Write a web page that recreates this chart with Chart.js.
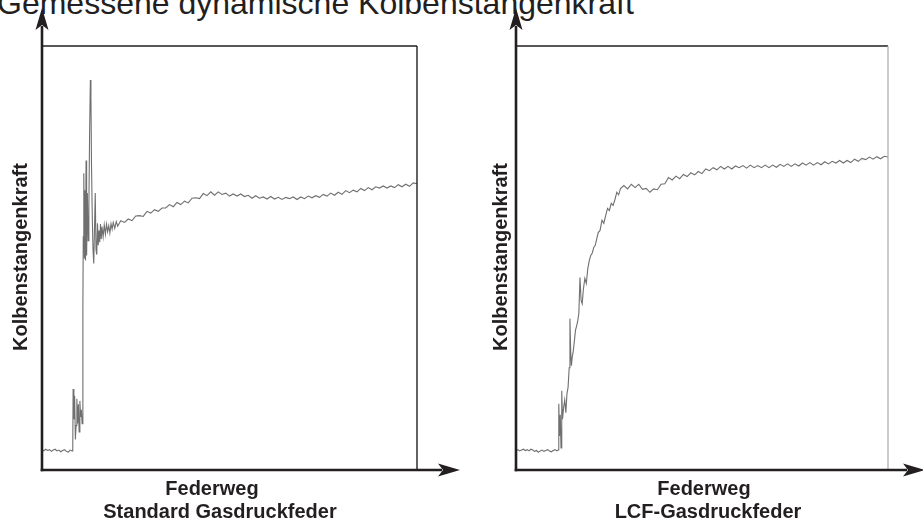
<!DOCTYPE html>
<html lang="de">
<head>
<meta charset="utf-8">
<title>Gemessene dynamische Kolbenstangenkraft</title>
<script src="https://cdn.jsdelivr.net/npm/chart.js@4.4.1/dist/chart.umd.min.js"></script>
<style>
  html, body { margin: 0; padding: 0; background: #fff; }
  body { width: 923px; height: 523px; position: relative; overflow: hidden; font-family: "Liberation Sans", Arial, Helvetica, sans-serif; color: #231f20; }
  canvas { position: absolute; top: 0; }
  #chartStd { left: 0; }
  #chartLcf { left: 470px; }
  .titel { position: absolute; left: -3px; top: -13px; font-size: 32px; line-height: 32px; white-space: nowrap; }
  .ylab { position: absolute; width: 260px; text-align: center; font-weight: bold; font-size: 20px; line-height: 20px; transform: rotate(-90deg); white-space: nowrap; }
  .xlab { position: absolute; width: 400px; text-align: center; font-weight: bold; font-size: 20px; line-height: 23px; white-space: nowrap; }
</style>
</head>
<body>
<div class="titel">Gemessene dynamische Kolbenstangenkraft</div>

<canvas id="chartStd" width="470" height="523"></canvas>
<canvas id="chartLcf" width="460" height="523"></canvas>

<div class="ylab" style="left:-110px; top:247px;">Kolbenstangenkraft</div>
<div class="ylab" style="left:370px; top:247px;">Kolbenstangenkraft</div>

<div class="xlab" style="left:12px; top:477px;">Federweg</div>
<div class="xlab" style="left:20px; top:500px;">Standard Gasdruckfeder</div>
<div class="xlab" style="left:504px; top:477px;">Federweg</div>
<div class="xlab" style="left:508px; top:500px;">LCF-Gasdruckfeder</div>

<script>
// ---------------------------------------------
// Messwerte (Federweg / Kraft, relative Einheiten 0..100)
// ---------------------------------------------

// Standard Gasdruckfeder
const stdTravel = [
  0, 0.5, 1, 1.5, 2, 2.5, 3, 3.5, 4, 4.5, 5, 5.5, 6, 6.5, 7, 7.5, 8, 8.2,
  8.3, 8.5, 8.7, 8.9, 9.1, 9.3, 9.5, 9.7, 9.9, 10.1, 10.3, 10.5, 10.7,
  10.9, 11.0, 11.15, 11.3, 11.45, 11.6, 11.75, 11.9, 12.1, 12.3, 12.5, 12.7, 12.9, 13.05, 13.2, 13.4,
  13.6, 13.8, 14.0, 14.2, 14.4, 14.6, 14.8, 15.0, 15.2, 15.4, 15.6, 15.8, 16.0, 16.3, 16.6, 16.9,
  17.2, 17.5, 17.8, 18.1, 18.4, 18.7, 19.0, 19.4, 19.8, 20.2,
  21, 22, 23, 24, 25, 26, 27, 28, 29, 30, 31, 32, 33, 34, 35, 36, 37, 38, 39, 40,
  41, 42, 43, 44, 45, 46, 47, 48, 49, 50, 51, 52, 53, 54, 55, 56, 57, 58, 59, 60,
  61, 62, 63, 64, 65, 66, 67, 68, 69, 70, 71, 72, 73, 74, 75, 76, 77, 78, 79, 80,
  81, 82, 83, 84, 85, 86, 87, 88, 89, 90, 91, 92, 93, 94, 95, 96, 97, 98, 99, 100
];
const stdForce = [
  4.8, 4.5, 4.9, 4.6, 4.8, 4.4, 4.7, 4.9, 4.5, 4.7, 4.3, 4.6, 4.8, 4.4, 4.2, 4.7, 4.5, 4.8,
  19.1, 12.0, 17.5, 7.2, 10.5, 16.8, 11.0, 15.5, 9.0, 16.3, 12.5, 14.2, 10.9,
  38.0, 55.0, 70.0, 50.0, 66.0, 49.4, 73.0, 50.6, 65.3, 54.1, 62.0, 80.0, 92.0, 88.0, 72.0, 60.0,
  52.0, 48.7, 57.0, 65.3, 52.0, 50.8, 58.2, 53.0, 56.5, 53.7, 58.0, 54.5, 57.4, 55.0, 57.8, 55.6,
  58.0, 56.2, 57.6, 55.9, 58.1, 56.8, 58.4, 57.0, 58.6, 57.5,
  58.8, 58.4, 59.2, 58.8, 59.9, 60.0, 59.8, 61.0, 60.6, 61.4, 61.0, 61.8, 61.8, 62.6, 62.1, 63.1, 62.6, 63.4, 63.0, 64.1,
  64.2, 64.0, 65.2, 64.7, 65.6, 64.8, 65.6, 65.0, 65.3, 64.6, 65.1, 64.6, 65.1, 64.5, 64.8, 64.1, 64.7, 64.1, 64.4, 63.9,
  64.5, 63.9, 64.3, 63.8, 64.3, 64.0, 64.4, 63.8, 64.4, 64.0, 64.6, 64.2, 64.7, 64.3, 65.0, 64.6, 65.3, 64.8, 65.5, 65.0,
  65.9, 65.4, 66.0, 65.6, 66.4, 65.9, 66.6, 66.1, 66.8, 66.5, 67.0, 66.5, 67.0, 66.6, 67.3, 66.8, 67.4, 66.9, 67.7, 67.5
];

// LCF-Gasdruckfeder
const lcfTravel = [
  0, 0.5, 1, 1.5, 2, 2.5, 3, 3.5, 4, 4.5, 5, 5.5, 6, 6.5, 7, 7.5, 8, 8.5, 9, 9.5, 10, 10.5, 11, 11.3,
  11.5, 11.7, 11.9, 12.1, 12.3, 12.5, 12.8, 13.1, 13.4, 13.7, 14.0, 14.3, 14.5, 14.7, 14.9, 15.1,
  15.4, 15.7, 16.0, 16.3, 16.6, 16.9, 17.2, 17.5, 17.8, 18.1, 18.5, 18.9, 19.3, 19.7, 20.1, 20.5,
  20.9, 21.3, 21.7, 22.1, 22.6, 23.1, 23.6, 24.1, 24.6, 25.1, 25.6, 26.1, 26.6, 27.1, 27.6, 28.1,
  29, 30, 31, 32, 33, 34, 35, 36, 37, 38, 39, 40,
  41, 42, 43, 44, 45, 46, 47, 48, 49, 50, 51, 52, 53, 54, 55, 56, 57, 58, 59, 60,
  61, 62, 63, 64, 65, 66, 67, 68, 69, 70, 71, 72, 73, 74, 75, 76, 77, 78, 79, 80,
  81, 82, 83, 84, 85, 86, 87, 88, 89, 90, 91, 92, 93, 94, 95, 96, 97, 98, 99, 100
];
const lcfForce = [
  4.6, 4.8, 4.5, 4.7, 4.9, 4.6, 4.8, 4.5, 4.9, 4.7, 4.4, 4.6, 4.2, 4.5, 4.7, 4.4, 4.6, 4.8, 4.5, 4.3, 4.6, 4.8, 4.5, 4.7,
  15.6, 8.0, 13.0, 5.2, 18.7, 12.0, 14.7, 16.5, 13.5, 18.0, 19.5, 24.1, 35.7, 28.0, 24.6, 26.5,
  28.1, 30.5, 33.0, 34.0, 35.2, 37.0, 45.4, 40.0, 39.2, 42.5, 45.2, 44.0, 47.5, 49.4, 50.6, 51.2,
  52.5, 53.0, 54.5, 56.0, 56.5, 58.9, 58.2, 60.0, 61.7, 61.2, 62.9, 62.4, 63.8, 65.5, 64.9, 66.4,
  67.1, 66.3, 67.4, 66.6, 67.4, 66.2, 66.4, 65.5, 66.3, 66.1, 67.4, 67.5,
  69.0, 68.4, 69.3, 68.7, 69.7, 69.2, 70.1, 69.6, 70.4, 69.9, 71.0, 70.6, 71.3, 70.8, 71.6, 71.0, 71.6, 71.0, 71.7, 71.3,
  71.8, 71.2, 71.9, 71.3, 71.8, 71.3, 71.9, 71.3, 71.9, 71.4, 72.1, 71.6, 72.2, 71.6, 72.2, 71.7, 72.4, 71.9, 72.5, 71.9,
  72.5, 72.0, 72.7, 72.2, 72.8, 72.4, 73.0, 72.4, 73.0, 72.5, 73.3, 72.8, 73.5, 73.2, 73.8, 73.3, 73.9, 73.4, 74.0, 73.8
];

// ---------------------------------------------
// Rahmen + Achsenpfeile
// ---------------------------------------------
function arrowHead(ctx, tipX, tipY, dir){
    // dir: "up" oder "right"
    const len = 22, half = 6.5, notch = 17;
    ctx.beginPath();
    if(dir === "up"){
        ctx.moveTo(tipX, tipY);
        ctx.lineTo(tipX + half, tipY + len);
        ctx.lineTo(tipX, tipY + notch);
        ctx.lineTo(tipX - half, tipY + len);
    } else {
        ctx.moveTo(tipX, tipY);
        ctx.lineTo(tipX - len, tipY - half);
        ctx.lineTo(tipX - notch, tipY);
        ctx.lineTo(tipX - len, tipY + half);
    }
    ctx.closePath();
    ctx.fill();
}

const framePlugin = {
    id: "rahmen",
    afterDatasetsDraw(chart, args, opts){
        const ctx = chart.ctx;
        const a = chart.chartArea;
        ctx.save();

        // oberer und rechter Rahmen
        ctx.lineWidth = 1.4;
        ctx.strokeStyle = "#231f20";
        ctx.beginPath();
        ctx.moveTo(a.left, a.top);
        ctx.lineTo(a.right, a.top);
        ctx.stroke();

        ctx.lineWidth = opts.rightWidth;
        ctx.strokeStyle = opts.rightColor;
        ctx.beginPath();
        ctx.moveTo(a.right, a.top);
        ctx.lineTo(a.right, a.bottom);
        ctx.stroke();

        // Achsen mit Pfeilen
        ctx.strokeStyle = "#231f20";
        ctx.fillStyle = "#231f20";
        ctx.lineWidth = 2.6;
        const yTip = a.top - opts.upExtra;
        const xTip = a.right + opts.rightExtra;
        ctx.beginPath();
        ctx.moveTo(a.left, a.bottom + 1.3);
        ctx.lineTo(a.left, yTip + 18);
        ctx.stroke();
        ctx.beginPath();
        ctx.moveTo(a.left - 1.3, a.bottom);
        ctx.lineTo(xTip - 18, a.bottom);
        ctx.stroke();
        arrowHead(ctx, a.left, yTip, "up");
        arrowHead(ctx, xTip, a.bottom, "right");

        ctx.restore();
    }
};

function makePoints(xs, ys){
    return xs.map((x, i) => ({ x: x, y: ys[i] }));
}

function buildChart(canvasId, xs, ys, padding, frame){
    return new Chart(document.getElementById(canvasId), {
        type: "line",
        data: {
            datasets: [{
                data: makePoints(xs, ys),
                borderColor: "rgba(95,95,95,0.9)",
                borderWidth: 1.1,
                pointRadius: 0,
                tension: 0,
                fill: false
            }]
        },
        options: {
            responsive: false,
            animation: false,
            devicePixelRatio: 1,
            layout: { padding: padding },
            plugins: {
                legend: { display: false },
                tooltip: { enabled: false },
                rahmen: frame
            },
            scales: {
                x: { type: "linear", min: 0, max: 100, display: false },
                y: { type: "linear", min: 0, max: 100, display: false }
            }
        },
        plugins: [framePlugin]
    });
}

buildChart("chartStd", stdTravel, stdForce,
    { left: 42, top: 46, right: 53, bottom: 53 },
    { rightColor: "#231f20", rightWidth: 1.4, upExtra: 38, rightExtra: 43 });

buildChart("chartLcf", lcfTravel, lcfForce,
    { left: 46, top: 46, right: 42, bottom: 53 },
    { rightColor: "#a8a8a8", rightWidth: 1.2, upExtra: 38, rightExtra: 37 });
</script>
</body>
</html>
